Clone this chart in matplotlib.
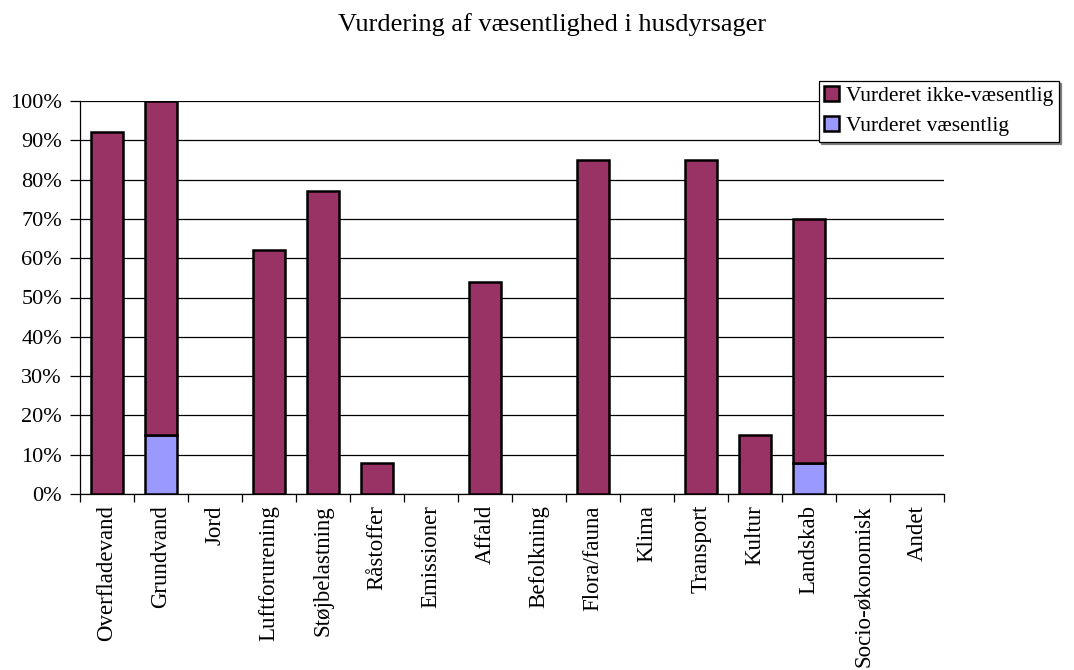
import numpy as np
import matplotlib.pyplot as plt
from matplotlib.ticker import PercentFormatter

plt.rcParams['font.family'] = ['Liberation Serif', 'DejaVu Serif']

categories = ['Overfladevand', 'Grundvand', 'Jord', 'Luftforurening', 'Støjbelastning',
              'Råstoffer', 'Emissioner', 'Affald', 'Befolkning', 'Flora/fauna',
              'Klima', 'Transport', 'Kultur', 'Landskab', 'Socio-økonomisk', 'Andet']
vaesentlig = [0, 15, 0, 0, 0, 0, 0, 0, 0, 0, 0, 0, 0, 8, 0, 0]
ikke_vaesentlig = [92, 85, 0, 62, 77, 8, 0, 54, 0, 85, 0, 85, 15, 62, 0, 0]

fig = plt.figure(figsize=(10.74, 6.70), dpi=100)
ax = fig.add_axes([80 / 1074, 176 / 670, 864 / 1074, 393 / 670])

x = np.arange(len(categories))
v = np.array(vaesentlig, dtype=float)
iv = np.array(ikke_vaesentlig, dtype=float)
w = 0.58
# empty segments are not drawn at all
ax.bar(x, np.where(v > 0, v, np.nan), w, color='#9999FF', edgecolor='black',
       linewidth=1.8, label='Vurderet væsentlig', zorder=3)
ax.bar(x, np.where(iv > 0, iv, np.nan), w, bottom=v, color='#993366', edgecolor='black',
       linewidth=1.8, label='Vurderet ikke-væsentlig', zorder=3)

ax.set_xlim(-0.5, len(categories) - 0.5)
ax.set_ylim(0, 100)
ax.set_yticks(np.arange(0, 101, 10))
ax.yaxis.set_major_formatter(PercentFormatter(decimals=0))
ax.grid(axis='y', color='black', linewidth=0.9, zorder=0)

# category labels sit between the boundary ticks
ax.set_xticks(x)
ax.set_xticklabels(categories, rotation=90, fontsize=16.5)
ax.tick_params(axis='x', length=0, pad=8)
ax.set_xticks(np.arange(-0.5, len(categories)), minor=True)
ax.tick_params(axis='x', which='minor', length=6, width=0.9, direction='out')
ax.tick_params(axis='y', labelsize=16, length=7, width=0.9, direction='out', pad=6)

for s in ['top', 'right']:
    ax.spines[s].set_visible(False)
for s in ['left', 'bottom']:
    ax.spines[s].set_linewidth(0.9)

handles, labels = ax.get_legend_handles_labels()
for h in handles:
    for p in h.patches:
        p.set_linewidth(1.8)
leg = fig.legend(handles[::-1], labels[::-1], loc='upper left',
                 bbox_to_anchor=(819 / 1074, 1 - 81 / 670), fontsize=15.5,
                 frameon=True, fancybox=False,
                 shadow={'color': '#808080', 'alpha': 1.0, 'ox': 1.5, 'oy': -1.5},
                 handlelength=0.7, handleheight=0.7, handletextpad=0.3,
                 borderpad=0.25, labelspacing=0.45, borderaxespad=0)
leg.get_frame().set_edgecolor('black')
leg.get_frame().set_linewidth(0.9)

fig.text(552 / 1074, 1 - 25 / 670, 'Vurdering af væsentlighed i husdyrsager',
         ha='center', va='center', fontsize=19)

fig.savefig('out.png', dpi=100)
